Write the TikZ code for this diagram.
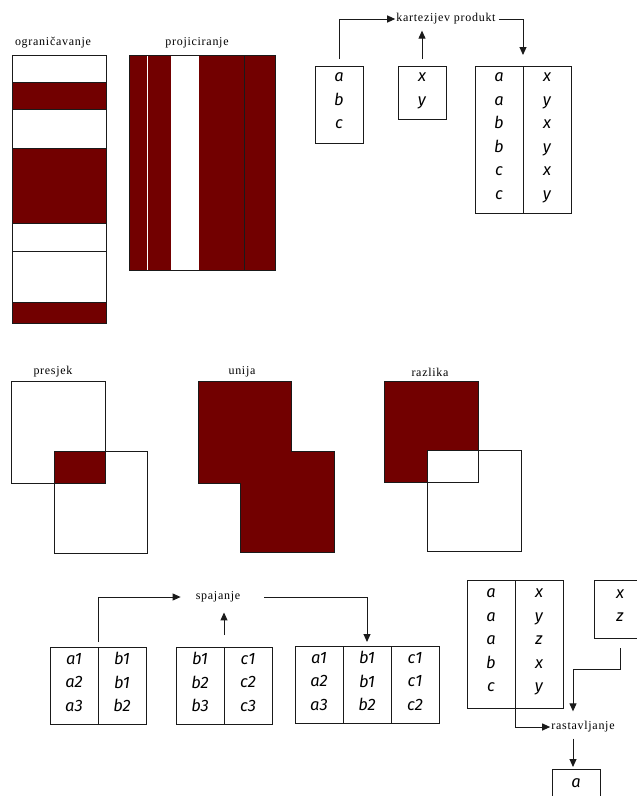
\documentclass[tikz,border=0pt]{standalone}
\usepackage{fontspec}
\newfontfamily\labelfont{Liberation Serif}[LetterSpace=6]
\newfontfamily\cellfont{Fira Sans}
\usepackage{xcolor}
\definecolor{cFill}{HTML}{720000}
\definecolor{cLine}{HTML}{1A1A1A}
\usepackage{tikz}
\usetikzlibrary{positioning,arrows.meta}
\tikzset{
  rel-col/.style={draw=cLine,line width=1pt,outer sep=0pt,inner sep=0pt,
    minimum width=48pt,align=center,
    font=\cellfont\itshape\fontsize{16.5}{23.5}\selectfont,
    execute at begin node=\strut,execute at end node=\strut},
  % operation names, slightly letter-spaced
  op-label/.style={font=\labelfont\fontsize{12}{14}\selectfont,
    inner xsep=1pt,inner ysep=6pt},
  set-box/.style={draw=cLine,line width=1pt},
  thin-rule/.style={draw=cLine,line width=0.8pt},
  arrow/.style={-{Triangle[length=8pt,width=7pt]},line width=1pt,draw=cLine},
}
\begin{document}
\begin{tikzpicture}[x=1pt,y=-1pt]
  \useasboundingbox (0,0) rectangle (637,796);
  \clip (0,0) rectangle (637,796);

  % ograničavanje
  \node[op-label] (lblogr) at (53,43) {ograničavanje};
  \foreach \ya/\yb in {82/109,148/223,302/323}
    \fill[cFill] (12,\ya) rectangle (106,\yb);
  \foreach \y in {82,109,148,223,251,302}
    \draw[thin-rule] (12,\y) -- (106,\y);
  \draw[set-box] (12,55) rectangle (106,323);

  % projiciranje
  \node[op-label] (lblproj) at (197,43) {projiciranje};
  \fill[cFill] (129,55) rectangle (275,270);
  \fill[white] (170.5,55) rectangle (199,270);
  \draw[white,line width=1pt] (147,55) -- (147,270);
  \draw[thin-rule] (244,55) -- (244,270);
  \draw[set-box] (129,55) rectangle (275,270);

  % kartezijev produkt
  \node[rel-col,minimum height=77pt] (t1) at (339,104.5) {a\\b\\c};
  \node[rel-col,minimum height=53pt] (t2) at (422,92.5) {x\\y};
  \node[rel-col,minimum height=147pt] (t3a) at (499,139.5) {a\\a\\b\\b\\c\\c};
  \node[rel-col,minimum height=147pt,right=0pt of t3a] (t3b) {x\\y\\x\\y\\x\\y};
  \node[op-label] (kp) at (446,19) {kartezijev produkt};
  \draw[arrow] ([yshift=7pt]t1.north) |- (kp.west);
  \draw[arrow] ([yshift=7pt]t2.north) -- (t2.north |- kp.south);
  \draw[arrow,shorten <=2pt] (kp.east) -| ([yshift=11pt]t3a.north east);

  % presjek
  \node[op-label] (lblpres) at (53,372) {presjek};
  \fill[cFill] (54,451) rectangle (105,483);
  \draw[set-box] (11,381) rectangle (105,483);
  \draw[set-box] (54,451) rectangle (147,553);

  % unija
  \node[op-label] (lbluni) at (242,372) {unija};
  \draw[set-box,fill=cFill] (198,381) -- (291,381) -- (291,451) -- (334,451)
    -- (334,552) -- (240,552) -- (240,483) -- (198,483) -- cycle;

  % razlika
  \node[op-label] (lblraz) at (430,372) {razlika};
  \fill[cFill] (384,381) rectangle (478,482);
  \draw[set-box,fill=white] (427,450) rectangle (521,551);
  \draw[set-box] (384,381) rectangle (478,482);

  % spajanje
  \node[rel-col,minimum height=77pt] (j1a) at (74,685.5) {a1\\a2\\a3};
  \node[rel-col,minimum height=77pt,right=0pt of j1a] (j1b) {b1\\b1\\b2};
  \node[rel-col,minimum height=77pt] (j2a) at (200,685.5) {b1\\b2\\b3};
  \node[rel-col,minimum height=77pt,right=0pt of j2a] (j2b) {c1\\c2\\c3};
  \node[rel-col,minimum height=77pt] (j3a) at (319,684.5) {a1\\a2\\a3};
  \node[rel-col,minimum height=77pt,right=0pt of j3a] (j3b) {b1\\b1\\b2};
  \node[rel-col,minimum height=77pt,right=0pt of j3b] (j3c) {c1\\c1\\c2};
  \node[op-label] (sp) at (218,597) {spajanje};
  \draw[arrow,shorten >=14pt] ([yshift=5pt]j1a.north east) |- (sp.west);
  \draw[arrow,shorten >=4pt] ([yshift=12pt]j2a.north east) -- (j2a.north east |- sp.south);
  \draw[arrow,shorten <=23pt] (sp.east) -| ([yshift=4pt]j3b.north);

  % rastavljanje
  \node[rel-col,minimum height=128pt] (d1a) at (491,644) {a\\a\\a\\b\\c};
  \node[rel-col,minimum height=128pt,right=0pt of d1a] (d1b) {x\\y\\z\\x\\y};
  \node[rel-col,minimum width=52pt,minimum height=58pt] (d2) at (620,609) {x\\z};
  \node[op-label] (ra) at (583,727) {rastavljanje};
  \coordinate (rabend) at (573,669);
  \node[rel-col,minimum height=28pt] (res) at (576,783) {a};
  \draw[arrow] (d1a.south east) |- (ra.west);
  \draw[arrow,shorten >=4pt] ([yshift=-10pt]d2.south) |- (rabend) -- (rabend |- ra.north);
  \draw[arrow,shorten >=2pt] (rabend |- ra.south) -- (rabend |- res.north);
\end{tikzpicture}
\end{document}
